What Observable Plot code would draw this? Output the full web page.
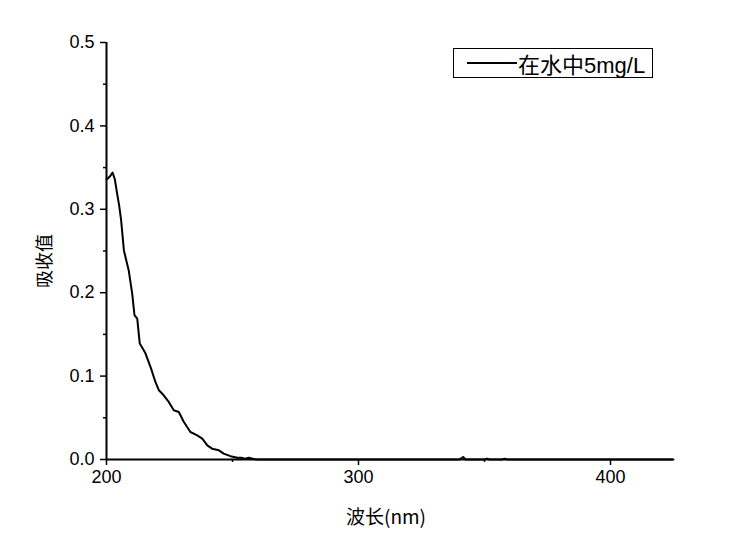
<!DOCTYPE html>
<html>
<head>
<meta charset="utf-8">
<script src="https://cdn.jsdelivr.net/npm/d3@7"></script>
<script src="https://cdn.jsdelivr.net/npm/@observablehq/plot@0.6"></script>
<style>
  html, body { margin: 0; padding: 0; background: #fff; }
  #wrap { position: relative; width: 754px; height: 543px; }
  #legend { position: absolute; left: 453px; top: 48px; width: 198px; height: 28px;
    border: 1px solid #000; box-sizing: content-box; display: flex; align-items: center;
    font-family: "Liberation Sans", "Noto Sans CJK SC", sans-serif; font-size: 22px; color: #000; }
  #legend .sw { width: 50px; height: 0; border-top: 2px solid #000; margin-left: 13px; margin-right: 1px; }
</style>
</head>
<body>
<div id="wrap"></div>
<script>
// Series: absorbance of sample in water (5 mg/L) vs wavelength (nm)
const seriesName = "在水中5mg/L";
const wavelength = [200, 200.5, 201.5, 202.4, 203.3, 204.2, 205.0, 205.8, 206.9, 207.5, 208.8, 210.2, 211.1, 212.2, 213.2, 214.2, 215.5, 216.6, 217.7, 219.4, 220.8, 222.7, 224.7, 226.7, 228.7, 230.7, 233.3, 236.0, 238.0, 240.0, 241.9, 244.6, 246.5, 249.2, 251.9, 253.5, 255.0, 256.5, 258.0, 259.5, 270, 300, 340, 341.5, 342.5, 344, 350, 351, 352, 357, 358, 359, 380, 400, 425];
const absorbance = [0.336, 0.337, 0.340, 0.344, 0.336, 0.319, 0.305, 0.287, 0.251, 0.243, 0.227, 0.199, 0.173, 0.169, 0.139, 0.134, 0.127, 0.118, 0.109, 0.093, 0.083, 0.077, 0.069, 0.059, 0.057, 0.045, 0.033, 0.029, 0.025, 0.017, 0.013, 0.011, 0.007, 0.004, 0.002, 0.002, 0.001, 0.002, 0.001, 0.000, 0.000, 0.000, 0.000, 0.003, 0.000, 0.000, 0.000, 0.001, 0.000, 0.000, 0.001, 0.000, 0.000, 0.000, 0.000];
const xMajorTicks = [200, 300, 400];
const xMinorTicks = [250, 350];
const yMajorTicks = [0, 0.1, 0.2, 0.3, 0.4, 0.5];
const yMinorTicks = [0.05, 0.15, 0.25, 0.35, 0.45];
const xLabel = "波长(nm)";
const yLabel = "吸收值";

const data = wavelength.map((w, i) => ({w, a: absorbance[i]}));
const numFont = "Liberation Sans, Arial, sans-serif";
const cjkFont = "Noto Sans CJK SC, sans-serif";

const chart = Plot.plot({
  width: 754,
  height: 543,
  marginLeft: 106,
  marginRight: 81,
  marginTop: 42,
  marginBottom: 84,
  x: {domain: [200, 425]},
  y: {domain: [0, 0.5]},
  style: {fontFamily: numFont, fontSize: "18px", color: "#000", background: "#fff"},
  marks: [
    Plot.axisY({ticks: yMajorTicks, tickFormat: d3.format(".1f"), tickSize: 6, tickPadding: 6, strokeWidth: 1.5, label: null, fontSize: 18}),
    Plot.axisY({ticks: yMinorTicks, tickFormat: () => "", tickSize: 3, strokeWidth: 1.5, label: null}),
    Plot.axisX({ticks: xMajorTicks, tickFormat: d3.format("d"), tickSize: 6, tickPadding: 5, strokeWidth: 1.5, label: null, fontSize: 18}),
    Plot.axisX({ticks: xMinorTicks, tickFormat: () => "", tickSize: 3, strokeWidth: 1.5, label: null}),
    Plot.line(data, {x: "w", y: "a", stroke: "#000", strokeWidth: 2}),
    Plot.ruleX([200], {y1: 0, y2: 0.5, stroke: "#000", strokeWidth: 2}),
    Plot.ruleY([0], {x1: 200, x2: 425, stroke: "#000", strokeWidth: 2}),
    Plot.text([yLabel], {frameAnchor: "left", textAnchor: "middle", lineAnchor: "middle", dx: -61, dy: 10, rotate: -90, fontSize: 18, fontFamily: cjkFont, fill: "#000"}),
    Plot.text([xLabel], {frameAnchor: "bottom", textAnchor: "middle", lineAnchor: "middle", dx: -4, dy: 58, fontSize: 19, fontFamily: cjkFont, fill: "#000"})
  ]
});

const wrap = document.getElementById("wrap");
wrap.appendChild(chart);
const legend = document.createElement("div");
legend.id = "legend";
const sw = document.createElement("span");
sw.className = "sw";
const lbl = document.createElement("span");
lbl.textContent = seriesName;
legend.appendChild(sw);
legend.appendChild(lbl);
wrap.appendChild(legend);
</script>
</body>
</html>
